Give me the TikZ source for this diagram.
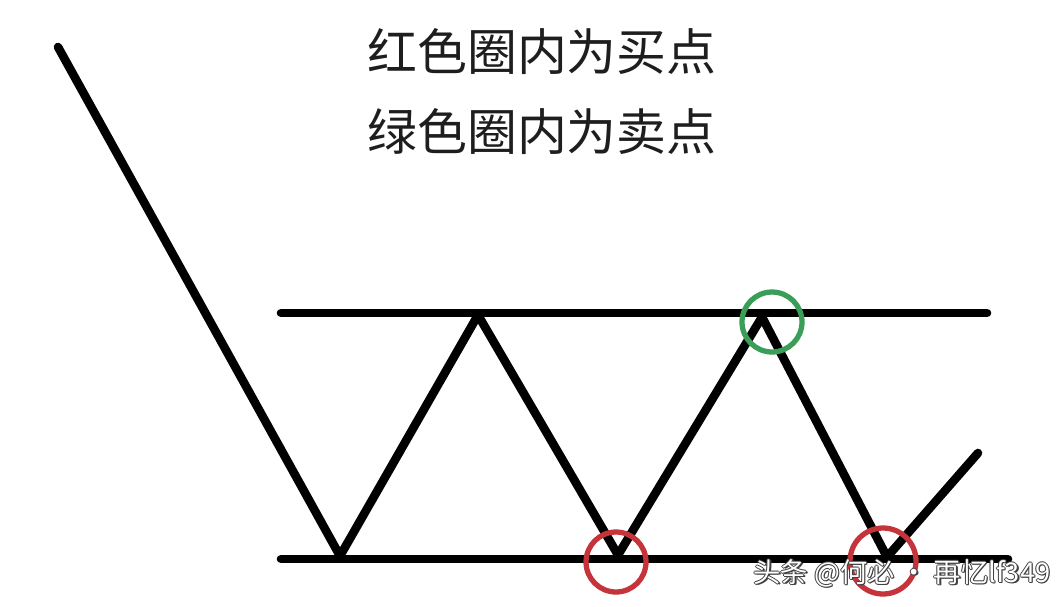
\documentclass[tikz,border=0pt]{standalone}
\usepackage{fontspec}
\newfontfamily\cjk{Noto Sans CJK SC}
\usetikzlibrary{positioning}

\definecolor{buyred}{RGB}{196,52,58}
\definecolor{sellgreen}{RGB}{58,158,88}
\definecolor{inkgray}{RGB}{30,30,30}

\tikzset{
  zigzag/.style={line width=4.9pt, line cap=round, line join=round, black},
  level/.style={line width=4.9pt, line cap=round, black},
  ring/.style={draw, circle, line width=3pt, inner sep=0pt},
  caption/.style={font=\cjk\fontsize{28.4}{30}\selectfont, text=inkgray, inner sep=0pt},
  wmtext/.style={font=\cjk\fontsize{15.5}{17}\selectfont, inner sep=0pt}
}

\begin{document}
\begin{tikzpicture}[x=0.02cm, y=-0.02cm]
\useasboundingbox[fill=white] (0,0) rectangle (1064,606);

% turning points of the price line
\coordinate (s) at (58,47);
\coordinate (v1) at (340,556);
\coordinate (p1) at (478,315);
\coordinate (v2) at (618,555);
\coordinate (p2) at (762,317);
\coordinate (v3) at (887,557);
\coordinate (e) at (978,453);

% box ends
\coordinate (t1) at (281,313);
\coordinate (t2) at (987,313);
\coordinate (b1) at (281,559);
\coordinate (b2) at (1008,559);

\draw[level] (t1) -- (t2);
\draw[level] (b1) -- (b2);
\draw[zigzag] (s) -- (v1) -- (p1) -- (v2) -- (p2) -- (v3) -- (e);

\node[ring, draw=sellgreen, minimum size=1.2cm] (sell) at (772,322) {};
\node[ring, draw=buyred, minimum size=1.2cm] (buy1) at (616,562) {};
\node[ring, draw=buyred, minimum size=1.32cm] (buy2) at (883,561) {};

\node[caption] (redtext) at (542,52) {红色圈内为买点};
\node[caption] (greentext) at (542,132) {绿色圈内为卖点};

% watermark: dark rim, then white text
\foreach \dx/\dy [count=\i] in {1/0,-1/0,0/1,0/-1,1.5/1.5}
  \node[wmtext, text=black!75] (wmrim\i) at (902+\dx,573+\dy) {头条 @何必 · 再忆lf349};
\node[wmtext, text=white] (wm) at (902,573) {头条 @何必 · 再忆lf349};
\end{tikzpicture}
\end{document}
